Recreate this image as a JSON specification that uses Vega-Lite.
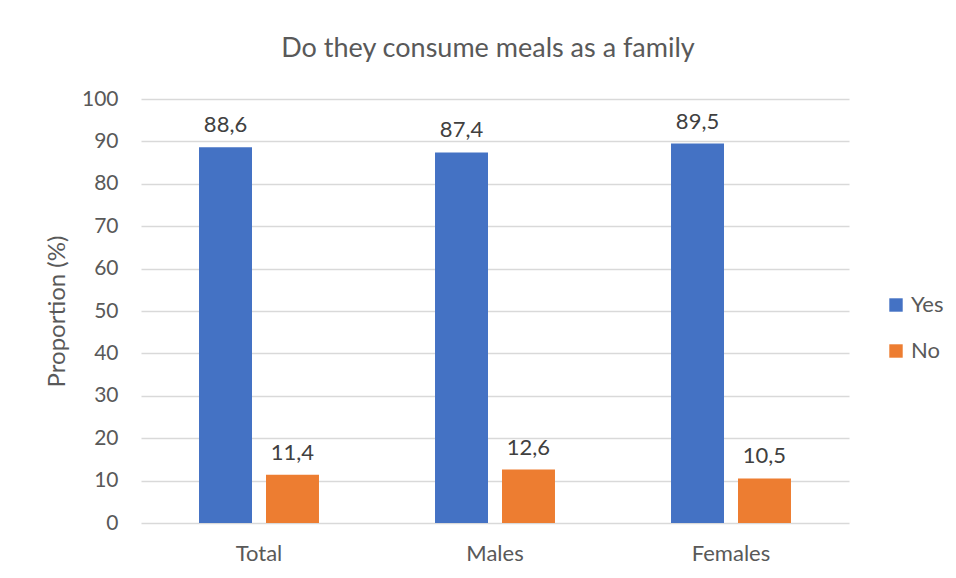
{
  "$schema": "https://vega.github.io/schema/vega-lite/v6.json",
  "width": 708,
  "height": 424,
  "autosize": {"type": "none"},
  "padding": {"left": 141, "top": 99, "right": 107, "bottom": 55},
  "background": "white",
  "title": {
    "text": "Do they consume meals as a family",
    "anchor": "middle",
    "dx": -7,
    "offset": 25,
    "font": "Lato",
    "fontSize": 27,
    "fontWeight": "normal",
    "color": "#595959"
  },
  "data": {
    "values": [
      {"group": "Total", "answer": "Yes", "value": 88.6},
      {"group": "Total", "answer": "No", "value": 11.4},
      {"group": "Males", "answer": "Yes", "value": 87.4},
      {"group": "Males", "answer": "No", "value": 12.6},
      {"group": "Females", "answer": "Yes", "value": 89.5},
      {"group": "Females", "answer": "No", "value": 10.5}
    ]
  },
  "encoding": {
    "x": {
      "field": "group",
      "type": "nominal",
      "sort": ["Total", "Males", "Females"],
      "scale": {"paddingInner": 0, "paddingOuter": 0},
      "axis": {
        "title": null,
        "labelAngle": 0,
        "labelFont": "Lato",
        "labelFontSize": 22,
        "labelColor": "#595959",
        "labelPadding": 20,
        "ticks": false,
        "domain": false,
        "grid": false
      }
    },
    "xOffset": {
      "field": "answer",
      "type": "nominal",
      "sort": ["Yes", "No"],
      "scale": {"paddingInner": 0.209, "paddingOuter": 0.866}
    },
    "y": {
      "field": "value",
      "type": "quantitative",
      "scale": {"domain": [0, 100]},
      "axis": {
        "title": "Proportion (%)",
        "titleFont": "Lato",
        "titleFontSize": 24,
        "titleFontWeight": "normal",
        "titleColor": "#595959",
        "titlePadding": 12,
        "values": [0, 10, 20, 30, 40, 50, 60, 70, 80, 90, 100],
        "labelOverlap": false,
        "labelFont": "Lato",
        "labelFontSize": 21,
        "labelColor": "#595959",
        "labelPadding": 23,
        "ticks": false,
        "domain": false,
        "grid": true,
        "gridColor": "#d9d9d9",
        "gridWidth": 1.5
      }
    }
  },
  "layer": [
    {
      "mark": {"type": "bar"},
      "encoding": {
        "color": {
          "field": "answer",
          "type": "nominal",
          "sort": ["Yes", "No"],
          "scale": {"domain": ["Yes", "No"], "range": ["#4472C4", "#ED7D31"]},
          "legend": {
            "title": null,
            "orient": "none",
            "legendX": 744,
            "legendY": 195,
            "symbolType": "square",
            "symbolSize": 180,
            "symbolStrokeWidth": 0,
            "labelFont": "Lato",
            "labelFontSize": 22,
            "labelColor": "#595959",
            "labelOffset": 4,
            "rowPadding": 24
          }
        }
      }
    },
    {
      "mark": {
        "type": "text",
        "baseline": "bottom",
        "dy": -10,
        "font": "Lato",
        "fontSize": 22,
        "color": "#404040"
      },
      "encoding": {
        "text": {"field": "value", "type": "quantitative", "format": ".1f"}
      }
    }
  ],
  "config": {
    "view": {"stroke": null},
    "locale": {
      "number": {"decimal": ",", "thousands": ".", "grouping": [3], "currency": ["", " €"]}
    }
  }
}
